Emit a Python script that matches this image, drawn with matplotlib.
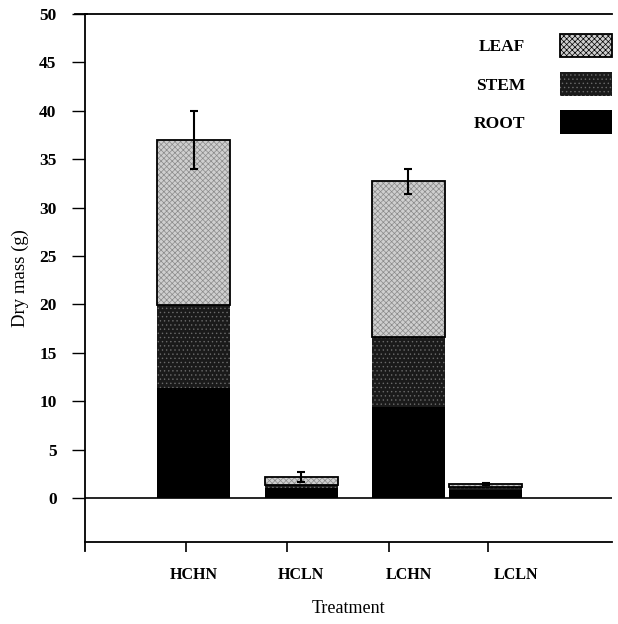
import matplotlib
matplotlib.use("Agg")
import matplotlib.pyplot as plt
import numpy as np
from matplotlib.patches import Patch

# dry mass per plant part (g)
treatments = ["HCHN", "HCLN", "LCHN", "LCLN"]
root = [11.4, 1.0, 9.4, 0.8]
stem = [8.5, 0.3, 7.2, 0.3]
leaf = [17.1, 0.9, 16.1, 0.3]
total_err = [3.0, 0.5, 1.3, 0.1]

parts = ["LEAF", "STEM", "ROOT"]
y_ticks = [0, 5, 10, 15, 20, 25, 30, 35, 40, 45, 50]

plt.rcParams["font.family"] = ["Liberation Serif", "DejaVu Serif"]
plt.rcParams["hatch.linewidth"] = 0.5

# fill styles: face colour, hatch, hatch colour
styles = {
    "LEAF": ("#cfcfcf", "xxxxxx", "#8a8a8a"),
    "STEM": ("#1a1a1a", "....", "#6a6a6a"),
    "ROOT": ("#000000", "", "#000000"),
}

fig = plt.figure(figsize=(6.18, 6.24), dpi=100)
ax = fig.add_axes([0.1375, 0.1314, 0.853, 0.8462])

label_x = np.arange(1, len(treatments) + 1)
bar_x = np.array([1.0, 2.0, 3.0, 3.72])
tick_x = [0.925, 1.87, 2.82, 3.74]
width = 0.68

bottoms = np.zeros(len(treatments))
for name, vals in [("ROOT", root), ("STEM", stem), ("LEAF", leaf)]:
    fc, hatch, hc = styles[name]
    ax.bar(bar_x, vals, width, bottom=bottoms, color=fc, hatch=hatch,
           edgecolor=hc, linewidth=0, zorder=2)
    if name == "LEAF":
        ax.bar(bar_x, vals, width, bottom=bottoms, fill=False,
               edgecolor="black", linewidth=1.3, zorder=3)
    bottoms = bottoms + np.array(vals)

ax.errorbar(bar_x, bottoms, yerr=total_err, fmt="none", ecolor="black",
            elinewidth=1.5, capsize=2.6, capthick=1.5, zorder=4)

ax.axhline(0, color="black", linewidth=1.2, zorder=1)

ax.set_xlim(-0.016, 4.9)
ax.set_ylim(-4.55, 50)
ax.set_yticks(y_ticks)
ax.tick_params(axis="y", direction="out", length=9.5, width=1, labelsize=12.5, pad=11)
for lab in ax.get_yticklabels():
    lab.set_fontweight("bold")

ax.set_xticks(label_x)
ax.set_xticklabels(treatments, fontsize=11.5, fontweight="bold")
ax.tick_params(axis="x", which="major", length=0, pad=18)
ax.set_xticks(tick_x, minor=True)
ax.tick_params(axis="x", which="minor", direction="out", length=7.5, width=1.2)

ax.spines["right"].set_visible(False)
for s in ["left", "top", "bottom"]:
    ax.spines[s].set_linewidth(1.3)
ax.spines["left"].set_bounds(-5.5, 50)

# top rule continues out to the 50 tick
ax.plot([-0.11, 0], [50, 50], color="black", linewidth=1.3, clip_on=False)

ax.set_ylabel("Dry mass (g)", fontsize=13.5, labelpad=7)
ax.set_xlabel("Treatment", fontsize=13, labelpad=12)

handles = []
for name in parts:
    fc, hatch, hc = styles[name]
    handles.append(Patch(facecolor=fc, hatch=hatch, edgecolor=hc, linewidth=0))
leg = ax.legend(handles, parts, loc="upper right", bbox_to_anchor=(1.0, 0.962),
                frameon=False, markerfirst=False,
                prop={"size": 12.5, "weight": "bold"},
                handlelength=3.0, handleheight=1.7, labelspacing=0.85,
                handletextpad=2.0, borderpad=0, borderaxespad=0)
leg.legend_handles[0].set_edgecolor("black")
leg.legend_handles[0].set_linewidth(1.3)

fig.savefig("out.png", dpi=100)
